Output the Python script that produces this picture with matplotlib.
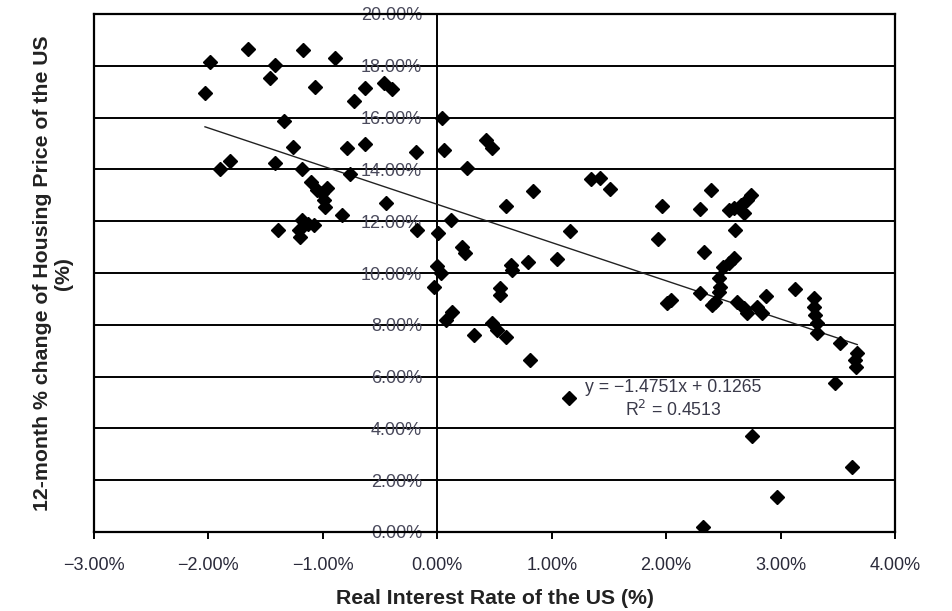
import matplotlib
matplotlib.use("Agg")
import matplotlib.pyplot as plt
import numpy as np
from matplotlib.ticker import FuncFormatter

plt.rcParams['font.family'] = ['Liberation Sans', 'DejaVu Sans']

# Real interest rate (%) and 12-month change of housing price (%)
real_rate = [
    -1.99, -2.03, -1.65, -1.17, -0.89, -1.42, -1.46, -1.07, -0.63, -0.47,
    -0.40, -0.73, -1.34, -1.26, -0.79, -0.63, -0.19, -1.90, -1.81, -1.42,
    -1.18, -0.76, -1.10, -1.05, -1.01, -0.96, -0.99, -0.98, -0.45, -0.83,
    -1.39, -1.18, -1.13, -1.21, -1.20, -1.08, -0.18,
    0.04, 0.06, 0.43, 0.48, 0.26, 0.12, 0.01, 0.22, 0.24, 0.00,
    0.03, -0.03, 0.13, 0.08, 0.32, 0.48, 0.52, 0.60, 0.81, 0.55,
    0.55, 0.64, 0.65, 0.79, 1.05, 1.16, 0.84, 0.60, 1.34, 1.42,
    1.51, 1.15,
    1.96, 1.93, 2.04, 2.01, 2.39, 2.30, 2.55, 2.59, 2.65, 2.71,
    2.74, 2.68, 2.60, 2.33, 2.59, 2.55, 2.50, 2.46, 2.47, 2.46,
    2.30, 2.40, 2.43, 2.62, 2.68, 2.71, 2.79, 2.84, 2.87, 3.13,
    3.29, 3.29, 3.30, 3.32, 3.32, 3.52, 3.67, 3.65, 3.66, 3.48,
    2.75, 3.62, 2.97, 2.32,
]
house_change = [
    18.16, 16.94, 18.65, 18.61, 18.29, 18.03, 17.52, 17.19, 17.15, 17.32,
    17.09, 16.64, 15.87, 14.88, 14.81, 14.97, 14.68, 14.00, 14.32, 14.26,
    14.02, 13.82, 13.53, 13.20, 13.08, 13.27, 12.82, 12.56, 12.71, 12.24,
    11.66, 12.05, 11.89, 11.66, 11.40, 11.85, 11.66,
    15.97, 14.75, 15.14, 14.81, 14.04, 12.05, 11.56, 11.02, 10.76, 10.27,
    9.99, 9.47, 8.51, 8.19, 7.61, 8.06, 7.80, 7.52, 6.64, 9.41,
    9.15, 10.31, 10.12, 10.44, 10.54, 11.62, 13.17, 12.59, 13.62, 13.66,
    13.23, 5.16,
    12.59, 11.31, 8.96, 8.83, 13.20, 12.46, 12.43, 12.50, 12.63, 12.82,
    13.01, 12.31, 11.66, 10.82, 10.57, 10.37, 10.24, 9.80, 9.47, 9.28,
    9.24, 8.76, 8.89, 8.89, 8.64, 8.44, 8.70, 8.44, 9.11, 9.37,
    9.02, 8.70, 8.38, 8.06, 7.70, 7.29, 6.92, 6.64, 6.38, 5.74,
    3.71, 2.52, 1.36, 0.20,
]

# Linear trend (fitted on fractions): y = -1.4751x + 0.1265
slope = -1.4751
intercept = 0.1265
r_squared = 0.4513

x_ticks = [-3, -2, -1, 0, 1, 2, 3, 4]
y_ticks = [0, 2, 4, 6, 8, 10, 12, 14, 16, 18, 20]

fig = plt.figure(figsize=(9.53, 6.11), dpi=100)
ax = fig.add_axes([94 / 953, 79 / 611, 801 / 953, 518 / 611])

ax.set_xlim(-3, 4)
ax.set_ylim(0, 20)

# horizontal gridlines
for v in y_ticks:
    ax.axhline(v, color='black', lw=1.4, zorder=1)

ax.plot(real_rate, house_change, linestyle='none', marker='D',
        markersize=7.3, color='black', zorder=4)

xs = np.array([min(real_rate), max(real_rate)])
ax.plot(xs, (slope * xs / 100 + intercept) * 100, color='#222222',
        lw=1.0, zorder=3)

ax.text(2.06, 5.1,
        f"y = \u2212{abs(slope):.4f}x + {intercept:.4f}\nR$^2$ = {r_squared:.4f}",
        ha='center', va='center', fontsize=12.7, color='#3a3a4a',
        linespacing=1.25, zorder=5)

# y axis crosses at x = 0
ax.spines['left'].set_position(('data', 0))
ax.spines['left'].set_linewidth(1.4)
ax.axvline(-3, color='black', lw=1.6, zorder=2, clip_on=False)
for s in ['top', 'right', 'bottom']:
    ax.spines[s].set_linewidth(1.6)

pct = FuncFormatter(lambda v, p: f"{v:.2f}%".replace('-', '\u2212'))
ax.set_xticks(x_ticks)
ax.set_yticks(y_ticks)
ax.xaxis.set_major_formatter(pct)
ax.yaxis.set_major_formatter(pct)
ax.tick_params(axis='x', direction='out', length=5, width=1.4,
               labelsize=13, colors='black', pad=13, labelcolor='#2a2a3a')
ax.tick_params(axis='y', length=0, pad=11, labelsize=13,
               labelcolor='#4a4a5c')
for lab in ax.get_yticklabels():
    lab.set_zorder(6)

ax.set_xlabel("Real Interest Rate of the US (%)", fontsize=15.3,
              fontweight='bold', color='#222222', labelpad=11)
fig.text(0.0556, 0.553, "12-month % change of Housing Price of the US\n(%)",
         rotation=90, ha='center', va='center', fontsize=15.3,
         fontweight='bold', color='#222222', linespacing=1.1)

fig.savefig("out.png", dpi=100)
